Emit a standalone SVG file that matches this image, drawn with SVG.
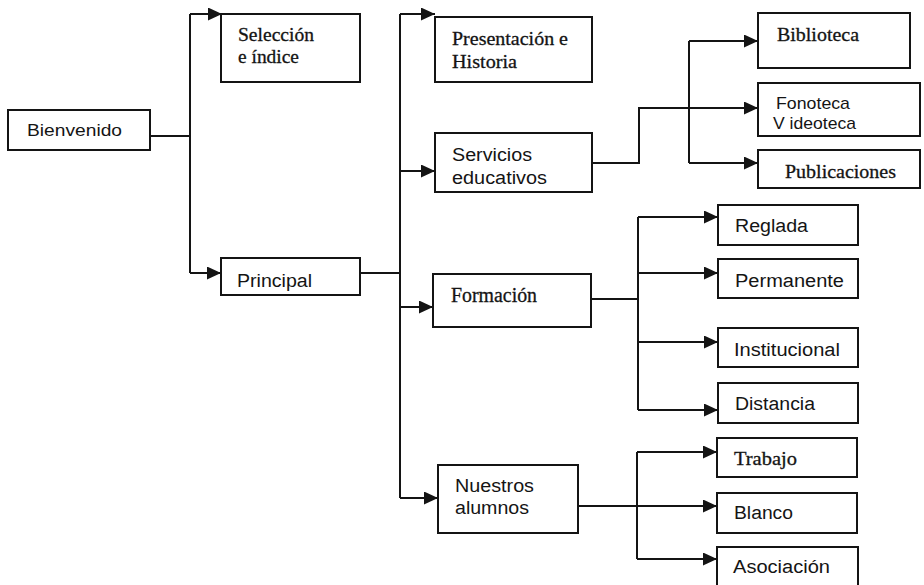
<svg xmlns="http://www.w3.org/2000/svg" width="924" height="585" viewBox="0 0 924 585">
  <style>
    .box { fill: #ffffff; stroke: #141414; stroke-width: 2; }
    .wire { fill: none; stroke: #141414; stroke-width: 2; }
    .sans { font-family: "Liberation Sans", Arial, sans-serif; fill: #141414; }
    .serif { font-family: "Liberation Serif", "Times New Roman", serif; fill: #141414; stroke: #141414; stroke-width: 0.3; }
  </style>
  <defs>
    <marker id="arrow" markerUnits="userSpaceOnUse" markerWidth="15" markerHeight="13" refX="14" refY="6.5" orient="auto">
      <path d="M0,0 L14,6.5 L0,13 Z" fill="#141414"/>
    </marker>
  </defs>

  <rect width="924" height="585" fill="#ffffff"/>

  <g id="connectors">
    <!-- Bienvenido branch -->
    <path class="wire" d="M150,136 H190"/>
    <path class="wire" d="M190,14 V273"/>
    <path class="wire" d="M190,14 H222" marker-end="url(#arrow)"/>
    <path class="wire" d="M190,273 H221" marker-end="url(#arrow)"/>
    <!-- Principal branch -->
    <path class="wire" d="M360,273 H400"/>
    <path class="wire" d="M400,14 V498"/>
    <path class="wire" d="M400,14 H435" marker-end="url(#arrow)"/>
    <path class="wire" d="M400,171 H435" marker-end="url(#arrow)"/>
    <path class="wire" d="M400,307 H433" marker-end="url(#arrow)"/>
    <path class="wire" d="M400,498 H438" marker-end="url(#arrow)"/>
    <!-- Servicios educativos branch -->
    <path class="wire" d="M592,163 H639 V108 H758" marker-end="url(#arrow)"/>
    <path class="wire" d="M689,41 V163"/>
    <path class="wire" d="M689,41 H758" marker-end="url(#arrow)"/>
    <path class="wire" d="M689,163 H758" marker-end="url(#arrow)"/>
    <!-- Formación branch -->
    <path class="wire" d="M591,299 H638"/>
    <path class="wire" d="M638,217 V410"/>
    <path class="wire" d="M638,217 H718" marker-end="url(#arrow)"/>
    <path class="wire" d="M638,273 H718" marker-end="url(#arrow)"/>
    <path class="wire" d="M638,342 H718" marker-end="url(#arrow)"/>
    <path class="wire" d="M638,410 H718" marker-end="url(#arrow)"/>
    <!-- Nuestros alumnos branch -->
    <path class="wire" d="M578,506 H717" marker-end="url(#arrow)"/>
    <path class="wire" d="M637,452 V559"/>
    <path class="wire" d="M637,452 H717" marker-end="url(#arrow)"/>
    <path class="wire" d="M637,559 H717" marker-end="url(#arrow)"/>
  </g>

  <g id="bienvenido">
    <rect class="box" x="8" y="110" width="142" height="40"/>
    <text class="sans" x="27" y="136" font-size="17" textLength="95" lengthAdjust="spacingAndGlyphs">Bienvenido</text>
  </g>
  <g id="seleccion">
    <rect class="box" x="221" y="14" width="139" height="68"/>
    <text class="serif" x="238" y="41" font-size="18.5" textLength="76" lengthAdjust="spacingAndGlyphs">Selección</text>
    <text class="serif" x="238" y="63" font-size="18.5" textLength="61" lengthAdjust="spacingAndGlyphs">e índice</text>
  </g>
  <g id="principal">
    <rect class="box" x="221" y="258" width="139" height="37"/>
    <text class="sans" x="237" y="287" font-size="18" textLength="75" lengthAdjust="spacingAndGlyphs">Principal</text>
  </g>
  <g id="presentacion">
    <rect class="box" x="435" y="17" width="157" height="65"/>
    <text class="serif" x="452" y="45" font-size="19" textLength="116" lengthAdjust="spacingAndGlyphs">Presentación e</text>
    <text class="serif" x="452" y="68" font-size="19" textLength="65" lengthAdjust="spacingAndGlyphs">Historia</text>
  </g>
  <g id="servicios">
    <rect class="box" x="435" y="133" width="157" height="59"/>
    <text class="sans" x="452" y="161" font-size="18" textLength="80" lengthAdjust="spacingAndGlyphs">Servicios</text>
    <text class="sans" x="452" y="184" font-size="18" textLength="95" lengthAdjust="spacingAndGlyphs">educativos</text>
  </g>
  <g id="formacion">
    <rect class="box" x="433" y="274" width="158" height="53"/>
    <text class="serif" x="451" y="302" font-size="20" textLength="86" lengthAdjust="spacingAndGlyphs">Formación</text>
  </g>
  <g id="nuestros">
    <rect class="box" x="438" y="465" width="140" height="68"/>
    <text class="sans" x="455" y="492" font-size="18" textLength="79" lengthAdjust="spacingAndGlyphs">Nuestros</text>
    <text class="sans" x="455" y="514" font-size="18" textLength="74" lengthAdjust="spacingAndGlyphs">alumnos</text>
  </g>
  <g id="biblioteca">
    <rect class="box" x="758" y="13" width="152" height="55"/>
    <text class="serif" x="777" y="41" font-size="18.5" textLength="82" lengthAdjust="spacingAndGlyphs">Biblioteca</text>
  </g>
  <g id="fonoteca">
    <rect class="box" x="758" y="83" width="162" height="53"/>
    <text class="sans" x="776" y="109" font-size="17" textLength="74" lengthAdjust="spacingAndGlyphs">Fonoteca</text>
    <text class="sans" x="773" y="129" font-size="17" textLength="83" lengthAdjust="spacingAndGlyphs">V ideoteca</text>
  </g>
  <g id="publicaciones">
    <rect class="box" x="758" y="150" width="162" height="38"/>
    <text class="serif" x="785" y="178" font-size="18.5" textLength="111" lengthAdjust="spacingAndGlyphs">Publicaciones</text>
  </g>
  <g id="reglada">
    <rect class="box" x="718" y="205" width="140" height="40"/>
    <text class="sans" x="735" y="232" font-size="18" textLength="73" lengthAdjust="spacingAndGlyphs">Reglada</text>
  </g>
  <g id="permanente">
    <rect class="box" x="718" y="259" width="140" height="39"/>
    <text class="sans" x="735" y="287" font-size="18" textLength="109" lengthAdjust="spacingAndGlyphs">Permanente</text>
  </g>
  <g id="institucional">
    <rect class="box" x="718" y="328" width="140" height="39"/>
    <text class="sans" x="734" y="356" font-size="18" textLength="106" lengthAdjust="spacingAndGlyphs">Institucional</text>
  </g>
  <g id="distancia">
    <rect class="box" x="718" y="383" width="140" height="40"/>
    <text class="sans" x="735" y="410" font-size="18" textLength="80" lengthAdjust="spacingAndGlyphs">Distancia</text>
  </g>
  <g id="trabajo">
    <rect class="box" x="717" y="438" width="140" height="39"/>
    <text class="serif" x="734" y="465" font-size="19" textLength="63" lengthAdjust="spacingAndGlyphs">Trabajo</text>
  </g>
  <g id="blanco">
    <rect class="box" x="717" y="493" width="140" height="40"/>
    <text class="sans" x="734" y="519" font-size="18" textLength="59" lengthAdjust="spacingAndGlyphs">Blanco</text>
  </g>
  <g id="asociacion">
    <rect class="box" x="717" y="547" width="141" height="45"/>
    <text class="sans" x="733" y="573" font-size="18" textLength="97" lengthAdjust="spacingAndGlyphs">Asociación</text>
  </g>
</svg>
